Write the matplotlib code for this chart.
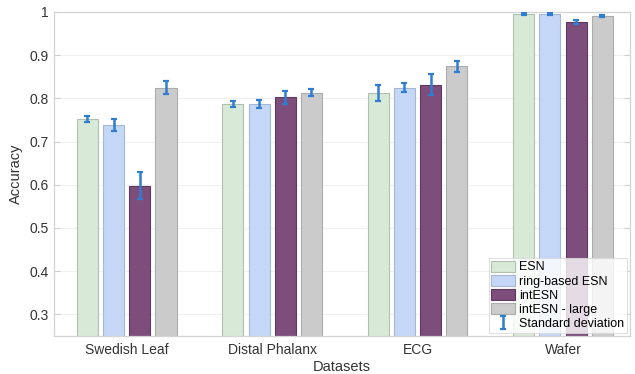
import numpy as np
import matplotlib.pyplot as plt

plt.rcParams['font.family'] = ['Liberation Sans', 'DejaVu Sans']

datasets = ['Swedish Leaf', 'Distal Phalanx', 'ECG', 'Wafer']
methods = ['ESN', 'ring-based ESN', 'intESN', 'intESN - large']

acc_esn = [0.752, 0.787, 0.812, 0.995]
acc_ring = [0.739, 0.786, 0.825, 0.995]
acc_int = [0.598, 0.802, 0.832, 0.977]
acc_large = [0.825, 0.813, 0.874, 0.991]

std_esn = [0.0065, 0.006, 0.019, 0.002]
std_ring = [0.0135, 0.0095, 0.011, 0.002]
std_int = [0.031, 0.016, 0.024, 0.004]
std_large = [0.016, 0.008, 0.013, 0.002]

colors = ['#d9e9d8', '#c4d7f6', '#7d4e7c', '#cbcbcb']
edges = ['#b0bfae', '#a6b7d2', '#5e3a5d', '#acacac']

accs = [acc_esn, acc_ring, acc_int, acc_large]
stds = [std_esn, std_ring, std_int, std_large]

fig = plt.figure(figsize=(6.35, 3.74), dpi=100)
ax = fig.add_axes([0.085, 0.102, 0.907, 0.866])

x = np.arange(1, len(datasets) + 1)
step = 0.18
width = 0.145
offsets = (np.arange(4) - 1.5) * step

handles = []
for i in range(4):
    b = ax.bar(x + offsets[i], accs[i], width, color=colors[i], edgecolor=edges[i],
               linewidth=0.8, label=methods[i], zorder=2)
    handles.append(b)
    eb = ax.errorbar(x + offsets[i], accs[i], yerr=stds[i], fmt='none', ecolor='#2f7dd0',
                     elinewidth=1.8, capsize=2.5, capthick=1.6, zorder=3)
handles.append(eb)

ax.set_xlim(0.5, 4.46)
ax.set_ylim(0.25, 1.0)
ax.set_yticks([0.3, 0.4, 0.5, 0.6, 0.7, 0.8, 0.9, 1.0])
ax.set_yticklabels(['0.3', '0.4', '0.5', '0.6', '0.7', '0.8', '0.9', '1'])
ax.set_xticks(x)
ax.set_xticklabels(datasets)
ax.yaxis.grid(True, color='#f0f0f0', linewidth=0.8, zorder=0)
ax.set_axisbelow(True)

for s in ax.spines.values():
    s.set_color('#d4d4d4')
    s.set_linewidth(0.9)
ax.tick_params(axis='both', colors='#d0d0d0', labelcolor='#333333', labelsize=10,
               direction='in', length=4, top=True, right=True)
ax.tick_params(axis='x', length=0, pad=5)
ax.set_xlabel('Datasets', fontsize=10.5, color='#333333', labelpad=2)
ax.set_ylabel('Accuracy', fontsize=10.5, color='#333333', labelpad=5)

leg = ax.legend(handles, methods + ['Standard deviation'], loc='lower right',
                bbox_to_anchor=(1.0, 0.0), fontsize=9, frameon=True, fancybox=False,
                handlelength=1.9, handleheight=0.95, labelspacing=0.12, borderpad=0.2,
                handletextpad=0.35, borderaxespad=0.25)
leg.get_frame().set_edgecolor('#d8d8d8')
leg.get_frame().set_linewidth(0.8)

fig.savefig('out.png', dpi=100)
